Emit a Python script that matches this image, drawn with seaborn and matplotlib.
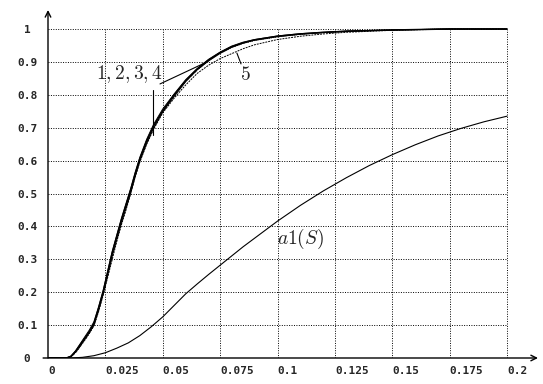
import matplotlib
matplotlib.use("Agg")
import matplotlib.pyplot as plt
import seaborn as sns

# shared abscissa for curves 1..5
s = [0, 0.008, 0.010, 0.012, 0.014, 0.016, 0.018, 0.020, 0.022, 0.024, 0.026,
     0.028, 0.030, 0.032, 0.034, 0.036, 0.038, 0.040, 0.043, 0.046, 0.050,
     0.055, 0.060, 0.065, 0.070, 0.075, 0.080, 0.085, 0.090, 0.100, 0.110,
     0.120, 0.130, 0.150, 0.175, 0.200]
curve1 = [0, 0, 0.005, 0.020, 0.040, 0.060, 0.080, 0.105, 0.150, 0.200, 0.260,
          0.320, 0.370, 0.420, 0.465, 0.510, 0.560, 0.605, 0.660, 0.705, 0.752,
          0.800, 0.843, 0.878, 0.906, 0.928, 0.946, 0.958, 0.967, 0.978, 0.985,
          0.990, 0.993, 0.997, 1.0, 1.0]
curve2 = [0, 0, 0.004, 0.018, 0.037, 0.057, 0.078, 0.100, 0.145, 0.195, 0.250,
          0.310, 0.360, 0.410, 0.455, 0.500, 0.552, 0.598, 0.652, 0.698, 0.748,
          0.795, 0.840, 0.876, 0.903, 0.926, 0.944, 0.957, 0.966, 0.977, 0.984,
          0.989, 0.993, 0.997, 1.0, 1.0]
curve3 = [0, 0, 0.006, 0.022, 0.043, 0.064, 0.085, 0.110, 0.155, 0.205, 0.265,
          0.325, 0.375, 0.425, 0.470, 0.515, 0.565, 0.610, 0.665, 0.710, 0.757,
          0.803, 0.846, 0.880, 0.908, 0.930, 0.948, 0.960, 0.968, 0.979, 0.986,
          0.990, 0.994, 0.997, 1.0, 1.0]
curve4 = [0, 0, 0.003, 0.016, 0.034, 0.054, 0.074, 0.098, 0.142, 0.192, 0.255,
          0.315, 0.368, 0.415, 0.460, 0.505, 0.556, 0.602, 0.656, 0.702, 0.750,
          0.798, 0.841, 0.875, 0.904, 0.926, 0.944, 0.956, 0.965, 0.976, 0.984,
          0.989, 0.993, 0.997, 1.0, 1.0]
curve5 = [0, 0, 0.004, 0.017, 0.035, 0.055, 0.075, 0.098, 0.140, 0.190, 0.245,
          0.300, 0.355, 0.405, 0.450, 0.500, 0.550, 0.595, 0.650, 0.695, 0.745,
          0.790, 0.830, 0.865, 0.890, 0.910, 0.925, 0.940, 0.952, 0.968, 0.978,
          0.985, 0.990, 0.996, 1.0, 1.0]

# a1(S)
s_a1 = [0, 0.010, 0.015, 0.020, 0.025, 0.030, 0.035, 0.040, 0.045, 0.050,
        0.055, 0.060, 0.065, 0.070, 0.075, 0.080, 0.085, 0.090, 0.095, 0.100,
        0.110, 0.120, 0.130, 0.140, 0.150, 0.160, 0.170, 0.180, 0.190, 0.200]
a1 = [0, 0, 0.002, 0.007, 0.016, 0.030, 0.046, 0.068, 0.095, 0.125,
      0.160, 0.195, 0.225, 0.254, 0.282, 0.310, 0.338, 0.364, 0.390, 0.416,
      0.464, 0.508, 0.548, 0.585, 0.618, 0.648, 0.675, 0.698, 0.718, 0.735]

xticks = [0, 0.025, 0.05, 0.075, 0.1, 0.125, 0.15, 0.175, 0.2]
xlabels = ["0", "0.025", "0.05", "0.075", "0.1", "0.125", "0.15", "0.175", "0.2"]
yticks = [0, 0.1, 0.2, 0.3, 0.4, 0.5, 0.6, 0.7, 0.8, 0.9, 1.0]
ylabels = ["0", "0.1", "0.2", "0.3", "0.4", "0.5", "0.6", "0.7", "0.8", "0.9", "1"]

sns.set_style("white")
plt.rcParams["mathtext.fontset"] = "cm"

fig = plt.figure(figsize=(5.43, 3.84), dpi=100)
ax = fig.add_axes([48 / 543, 1 - 358 / 384, 490 / 543, 348 / 384])
ax.set_xlim(0, 0.2 * 490 / 459)
ax.set_ylim(0, 348 / 329)

# dotted grid limited to the data box
ax.vlines(xticks[1:], 0, 1, colors="k", linestyles=(0, (1, 1.5)), lw=0.7)
ax.hlines(yticks[1:], 0, 0.2, colors="k", linestyles=(0, (1, 1.5)), lw=0.7)

sns.lineplot(x=s, y=curve1, ax=ax, color="k", lw=1.1)
sns.lineplot(x=s, y=curve2, ax=ax, color="k", lw=0.7)
sns.lineplot(x=s, y=curve3, ax=ax, color="k", lw=0.7)
sns.lineplot(x=s, y=curve4, ax=ax, color="k", lw=0.7, linestyle=(0, (1, 1)))
sns.lineplot(x=s, y=curve5, ax=ax, color="k", lw=0.7, linestyle=(0, (2, 1)))
sns.lineplot(x=s_a1, y=a1, ax=ax, color="k", lw=0.8)

# leaders and labels
ax.plot([0.0458, 0.0458], [0.678, 0.815], color="k", lw=0.8)
ax.plot([0.0488, 0.0693], [0.833, 0.900], color="k", lw=0.8)
ax.plot([0.0841, 0.0823], [0.894, 0.927], color="k", lw=0.8)
ax.text(0.0355, 0.863, r"$1,2,3,4$", fontsize=14, ha="center", va="center")
ax.text(0.0858, 0.862, r"$5$", fontsize=14, ha="center", va="center")
ax.text(0.1102, 0.362, r"$a1(S)$", fontsize=14, ha="center", va="center")

for sp in ax.spines.values():
    sp.set_visible(False)
# axes with arrow heads
ax.annotate("", xy=(1, 0), xytext=(-0.01, 0), xycoords="axes fraction",
            arrowprops=dict(arrowstyle="->", color="k", lw=1.0, shrinkA=0, shrinkB=0))
ax.annotate("", xy=(0, 1), xytext=(0, 0), xycoords="axes fraction",
            arrowprops=dict(arrowstyle="->", color="k", lw=1.0, shrinkA=0, shrinkB=0))

ax.set_xticks(xticks)
ax.set_xticklabels(xlabels, ha="left", fontfamily="DejaVu Sans Mono",
                   fontweight="bold", fontsize=8)
ax.set_yticks(yticks)
ax.set_yticklabels(ylabels, ha="center", fontfamily="DejaVu Sans Mono",
                   fontweight="bold", fontsize=8)
ax.tick_params(axis="x", length=0, pad=6)
ax.tick_params(axis="y", length=0, pad=15)
ax.grid(False)

fig.savefig("out.png", dpi=100)
plt.close(fig)
